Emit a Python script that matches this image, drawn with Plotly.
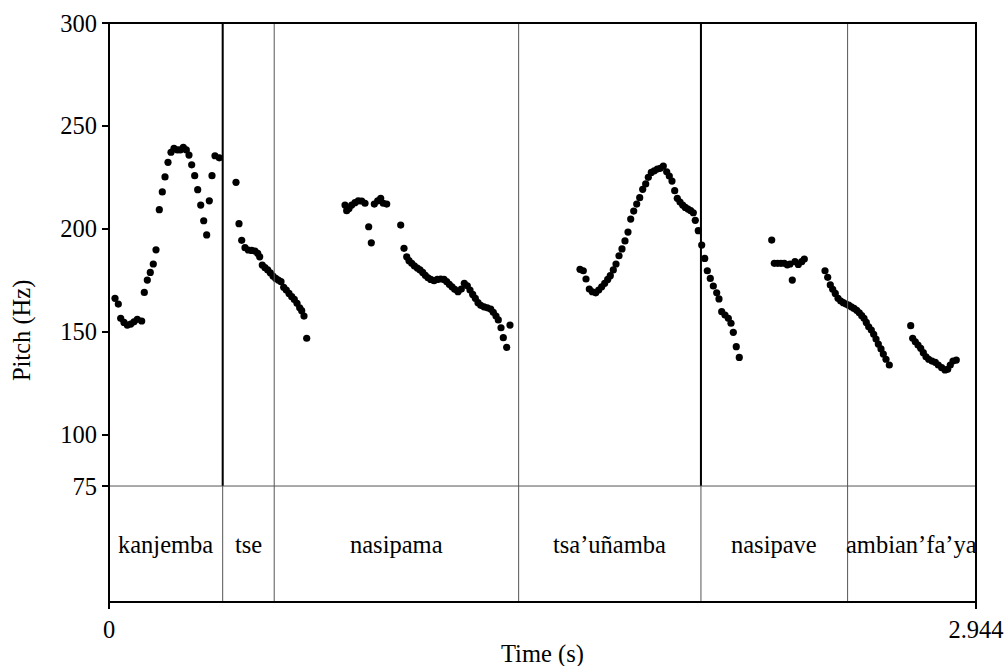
import plotly.graph_objects as go

# ---------------- data ----------------
# pitch contour chunks (time in s, pitch in Hz)
t_chunk1 = [0.0204, 0.0316, 0.0397, 0.0509, 0.0621, 0.0737, 0.0849, 0.0961, 0.1110, 0.1199,
            0.1301, 0.1402, 0.1504, 0.1596, 0.1708, 0.1810, 0.1902, 0.2003, 0.2105, 0.2207,
            0.2319, 0.2421, 0.2523, 0.2625, 0.2716, 0.2808, 0.2910, 0.3012, 0.3114, 0.3216,
            0.3317, 0.3406, 0.3497, 0.3599, 0.3745]
f_chunk1 = [166.2, 163.4, 156.5, 154.5, 153.2, 153.7, 154.8, 156.0, 155.2, 169.1,
            175.1, 178.8, 182.9, 189.8, 209.3, 217.9, 225.2, 232.3, 237.2, 239.1,
            238.3, 238.3, 239.6, 238.3, 235.8, 231.1, 225.8, 219.0, 211.5, 203.9,
            197.0, 213.6, 225.8, 235.5, 234.5]

t_chunk2 = [0.4312, 0.4414, 0.4506, 0.4618, 0.4730, 0.4846, 0.4958, 0.5049, 0.5117, 0.5205,
            0.5297, 0.5389, 0.5477, 0.5569, 0.5660, 0.5749, 0.5840, 0.5932, 0.6020, 0.6112,
            0.6204, 0.6292, 0.6384, 0.6475, 0.6543, 0.6621, 0.6713]
f_chunk2 = [222.6, 202.5, 194.4, 190.8, 189.7, 189.5, 189.2, 188.1, 186.4, 182.4,
            181.1, 180.0, 178.6, 177.0, 175.9, 175.1, 174.3, 171.6, 170.2, 168.6,
            167.0, 165.7, 163.8, 161.6, 160.2, 157.6, 146.8]

t_chunk3 = [0.8014, 0.8071, 0.8149, 0.8241, 0.8353, 0.8465, 0.8581, 0.8693, 0.8818, 0.8907,
            0.9009, 0.9124, 0.9226, 0.9314, 0.9430, 0.9905, 1.0017, 1.0109, 1.0187, 1.0278,
            1.0367, 1.0469, 1.0560, 1.0652, 1.0740, 1.0832, 1.0924, 1.1036, 1.1148, 1.1263,
            1.1375, 1.1467, 1.1555, 1.1647, 1.1739, 1.1851, 1.1963, 1.2065, 1.2167, 1.2258,
            1.2350, 1.2438, 1.2530, 1.2621, 1.2734, 1.2846, 1.2961, 1.3049, 1.3141, 1.3219,
            1.3311, 1.3389, 1.3504, 1.3616]
f_chunk3 = [211.5, 208.8, 209.9, 211.5, 212.7, 213.6, 213.5, 212.4, 201.0, 193.2,
            212.0, 213.6, 214.8, 212.4, 212.0, 201.8, 190.5, 186.4, 184.5, 183.2,
            182.0, 180.9, 180.0, 178.8, 177.4, 176.2, 175.4, 174.8, 175.4, 175.6,
            175.4, 174.3, 173.0, 171.8, 170.6, 169.4, 170.7, 173.5, 172.3, 170.2,
            168.1, 166.2, 164.1, 162.8, 162.1, 161.6, 161.0, 159.4, 157.6, 155.7,
            151.9, 147.1, 142.4, 153.2]

t_chunk4 = [1.5993, 1.6105, 1.6197, 1.6309, 1.6411, 1.6527, 1.6628, 1.6730, 1.6832, 1.6934,
            1.7022, 1.7124, 1.7216, 1.7318, 1.7419, 1.7521, 1.7623, 1.7715, 1.7817, 1.7919,
            1.8021, 1.8122, 1.8224, 1.8313, 1.8415, 1.8516, 1.8618, 1.8720, 1.8822, 1.8937,
            1.9026, 1.9117, 1.9209, 1.9297, 1.9389, 1.9480, 1.9569, 1.9661, 1.9752, 1.9841,
            1.9908, 2.0010, 2.0126, 2.0228, 2.0316, 2.0418, 2.0520, 2.0635, 2.0713, 2.0805,
            2.0917, 2.1029, 2.1121, 2.1199, 2.1300, 2.1402]
f_chunk4 = [180.3, 179.6, 175.6, 170.7, 169.4, 168.9, 170.2, 171.8, 173.5, 175.4,
            177.2, 180.0, 182.9, 186.9, 190.2, 194.1, 198.4, 204.7, 208.6, 212.0,
            215.1, 219.2, 221.8, 225.0, 227.4, 228.2, 229.0, 229.4, 230.5, 227.7,
            225.6, 223.2, 218.5, 214.8, 213.0, 211.5, 210.4, 209.6, 208.8, 207.8,
            204.1, 199.1, 192.1, 185.6, 179.6, 175.9, 172.2, 168.9, 165.9, 159.7,
            158.1, 156.5, 154.1, 149.7, 142.7, 137.5]

t_chunk5 = [2.2503, 2.2591, 2.2706, 2.2818, 2.2931, 2.3032, 2.3124, 2.3202, 2.3294, 2.3406,
            2.3522, 2.3610]
f_chunk5 = [194.5, 183.2, 183.2, 183.2, 183.2, 182.5, 182.9, 175.1, 184.0, 182.7,
            184.0, 185.3]

t_chunk6 = [2.4313, 2.4404, 2.4493, 2.4574, 2.4662, 2.4754, 2.4846, 2.4934, 2.5026, 2.5117,
            2.5206, 2.5297, 2.5389, 2.5477, 2.5559, 2.5637, 2.5715, 2.5796, 2.5885, 2.5966,
            2.6045, 2.6123, 2.6214, 2.6293, 2.6384, 2.6496]
f_chunk6 = [179.6, 176.4, 172.7, 170.6, 168.6, 166.2, 164.9, 164.1, 163.4, 162.9,
            162.1, 161.3, 160.4, 159.2, 157.8, 156.5, 154.5, 152.4, 150.8, 148.7,
            146.4, 144.0, 141.6, 139.1, 136.6, 133.8]

t_chunk7 = [2.7223, 2.7290, 2.7379, 2.7471, 2.7562, 2.7651, 2.7742, 2.7834, 2.7946, 2.8058,
            2.8160, 2.8275, 2.8387, 2.8479, 2.8567, 2.8659, 2.8771]
f_chunk7 = [152.9, 146.8, 145.1, 143.5, 141.9, 139.8, 137.8, 136.6, 135.7, 135.1,
            133.8, 132.5, 131.4, 131.7, 133.8, 135.7, 136.2]

# text tier
tier_bounds = [0.386, 0.561, 1.391, 2.010, 2.508]
thick_bounds = [0.386, 2.010]
tier_labels = ["kanjemba", "tse", "nasipama", "tsa\u2019u\u00f1amba", "nasipave", "ambian\u2019fa\u2019ya"]

t_min, t_max = 0.0, 2.944
f_min, f_max = 75, 300
y_ticks = [75, 100, 150, 200, 250, 300]

# ---------------- figure ----------------
FONT = "Liberation Serif, Times New Roman, serif"
FS = 24.5
pitch_bottom = 0.2003   # paper fraction where the pitch panel starts
B_MARGIN = 64
PLOT_H = 579

times = t_chunk1 + t_chunk2 + t_chunk3 + t_chunk4 + t_chunk5 + t_chunk6 + t_chunk7
pitch = f_chunk1 + f_chunk2 + f_chunk3 + f_chunk4 + f_chunk5 + f_chunk6 + f_chunk7

fig = go.Figure()
fig.add_trace(go.Scatter(
    x=times, y=pitch, mode="markers",
    marker=dict(color="black", size=7.2, line=dict(width=0)),
    showlegend=False, hoverinfo="x+y", cliponaxis=False,
))

shapes = []
for b in tier_bounds:
    shapes.append(dict(type="line", xref="x", yref="paper", x0=b, x1=b, y0=0, y1=1,
                       line=dict(color="#555555", width=1)))
for b in thick_bounds:
    shapes.append(dict(type="line", xref="x", yref="paper", x0=b, x1=b, y0=pitch_bottom, y1=1,
                       line=dict(color="black", width=2)))
shapes.append(dict(type="line", xref="paper", yref="paper", x0=0, x1=1, y0=pitch_bottom, y1=pitch_bottom,
                   line=dict(color="#555555", width=1)))
shapes.append(dict(type="rect", xref="paper", yref="paper", x0=0, x1=1, y0=0, y1=1,
                   line=dict(color="black", width=2)))

annotations = []
edges = [t_min] + tier_bounds + [t_max]
for i, lab in enumerate(tier_labels):
    annotations.append(dict(x=(edges[i] + edges[i + 1]) / 2, y=pitch_bottom / 2, xref="x", yref="paper",
                            text=lab, showarrow=False, font=dict(family=FONT, size=FS, color="black"),
                            xanchor="center", yanchor="middle"))
annotations.append(dict(x=-0.1003, y=0.468, xref="paper", yref="paper", text="Pitch (Hz)", textangle=-90,
                        showarrow=False, font=dict(family=FONT, size=FS, color="black"),
                        xanchor="center", yanchor="middle"))
annotations.append(dict(x=0.5, y=-B_MARGIN / PLOT_H, xref="paper", yref="paper", text="Time (s)",
                        showarrow=False, font=dict(family=FONT, size=FS, color="black"),
                        xanchor="center", yanchor="bottom", borderpad=0, yshift=-3))

fig.update_layout(
    width=1006, height=666,
    margin=dict(l=109, r=30, t=23, b=B_MARGIN, autoexpand=False),
    paper_bgcolor="white", plot_bgcolor="white",
    font=dict(family=FONT, size=FS, color="black"),
    shapes=shapes, annotations=annotations,
    xaxis=dict(range=[t_min, t_max], tickvals=[t_min, t_max], ticktext=["0", "2.944"],
               ticks="outside", ticklen=6, tickwidth=2, tickcolor="black",
               showgrid=False, zeroline=False, showline=False, automargin=False,
               ticklabeloverflow="allow", anchor="free", position=0, fixedrange=True),
    yaxis=dict(range=[f_min, f_max], domain=[pitch_bottom, 1], tickvals=y_ticks,
               ticks="outside", ticklen=6, tickwidth=2, tickcolor="black",
               showgrid=False, zeroline=False, showline=False, automargin=False,
               fixedrange=True),
)

fig.write_html("out.html", config={"displayModeBar": False},
               post_script="document.body.style.margin='0px';document.body.style.overflow='hidden';")
